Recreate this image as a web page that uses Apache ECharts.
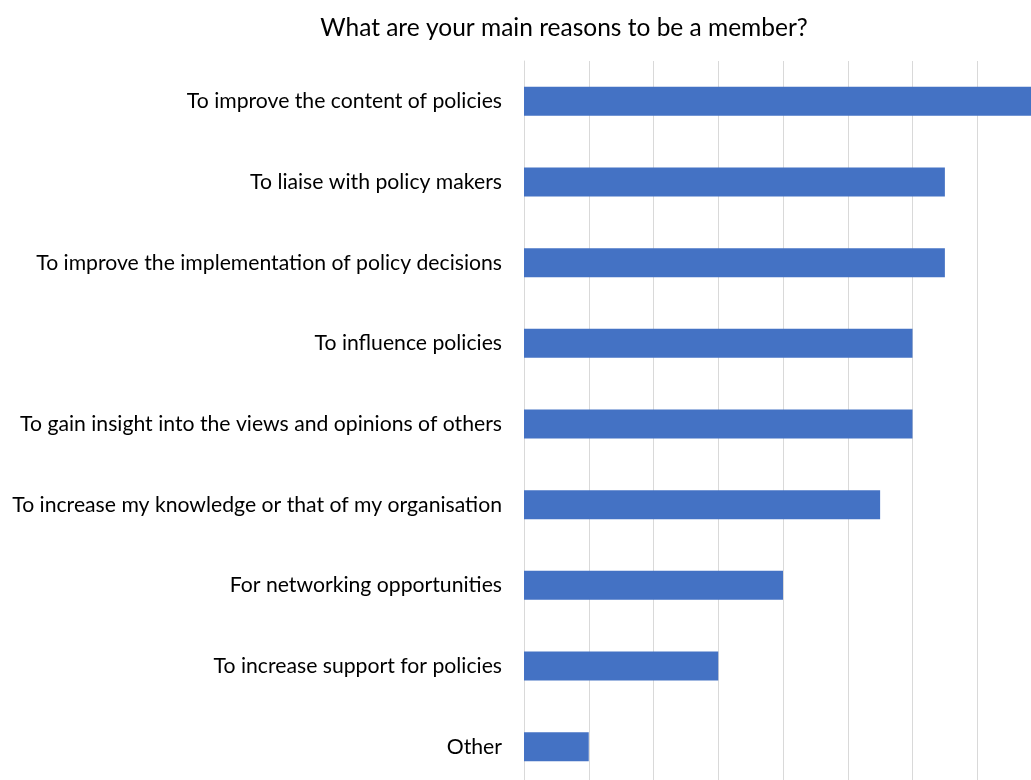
<!DOCTYPE html>
<html>
<head>
<meta charset="utf-8">
<script src="https://cdn.jsdelivr.net/npm/echarts@6/dist/echarts.min.js"></script>
<style>
  html, body { margin: 0; padding: 0; background: #ffffff; }
  #chart { width: 1031px; height: 780px; }
</style>
</head>
<body>
<div id="chart"></div>
<script>
// Survey answers, top to bottom
const reasons = [
  'To improve the content of policies',
  'To liaise with policy makers',
  'To improve the implementation of policy decisions',
  'To influence policies',
  'To gain insight into the views and opinions of others',
  'To increase my knowledge or that of my organisation',
  'For networking opportunities',
  'To increase support for policies',
  'Other'
];
const counts = [8, 6.5, 6.5, 6, 6, 5.5, 4, 3, 1];

const FONT = 'Lato';
const chart = echarts.init(document.getElementById('chart'), null, { renderer: 'canvas' });

chart.setOption({
  backgroundColor: '#ffffff',
  animation: false,
  title: {
    text: 'What are your main reasons to be a member?',
    left: 559,
    textAlign: 'center',
    top: 11,
    textStyle: { fontFamily: FONT, fontSize: 24.5, fontWeight: 'normal', color: '#000000' }
  },
  // plot area runs slightly past the right and bottom edges of the page
  grid: {
    left: 524, top: 61, width: 518, height: 726,
    containLabel: false,
    outerBoundsMode: 'none'
  },
  xAxis: {
    type: 'value',
    min: 0,
    max: 8,
    interval: 1,
    axisLabel: { show: false },
    axisLine: { show: false },
    axisTick: { show: false },
    splitLine: { show: true, lineStyle: { color: '#d9d9d9', width: 1 } }
  },
  yAxis: {
    type: 'category',
    data: reasons,
    inverse: true,
    axisLine: { show: true, lineStyle: { color: '#d9d9d9', width: 1 } },
    axisTick: { show: false },
    axisLabel: { margin: 22, fontFamily: FONT, fontSize: 21.2, color: '#000000' }
  },
  series: [{
    type: 'bar',
    data: counts,
    barWidth: 29,
    itemStyle: { color: '#4472C4' }
  }]
});
</script>
</body>
</html>
